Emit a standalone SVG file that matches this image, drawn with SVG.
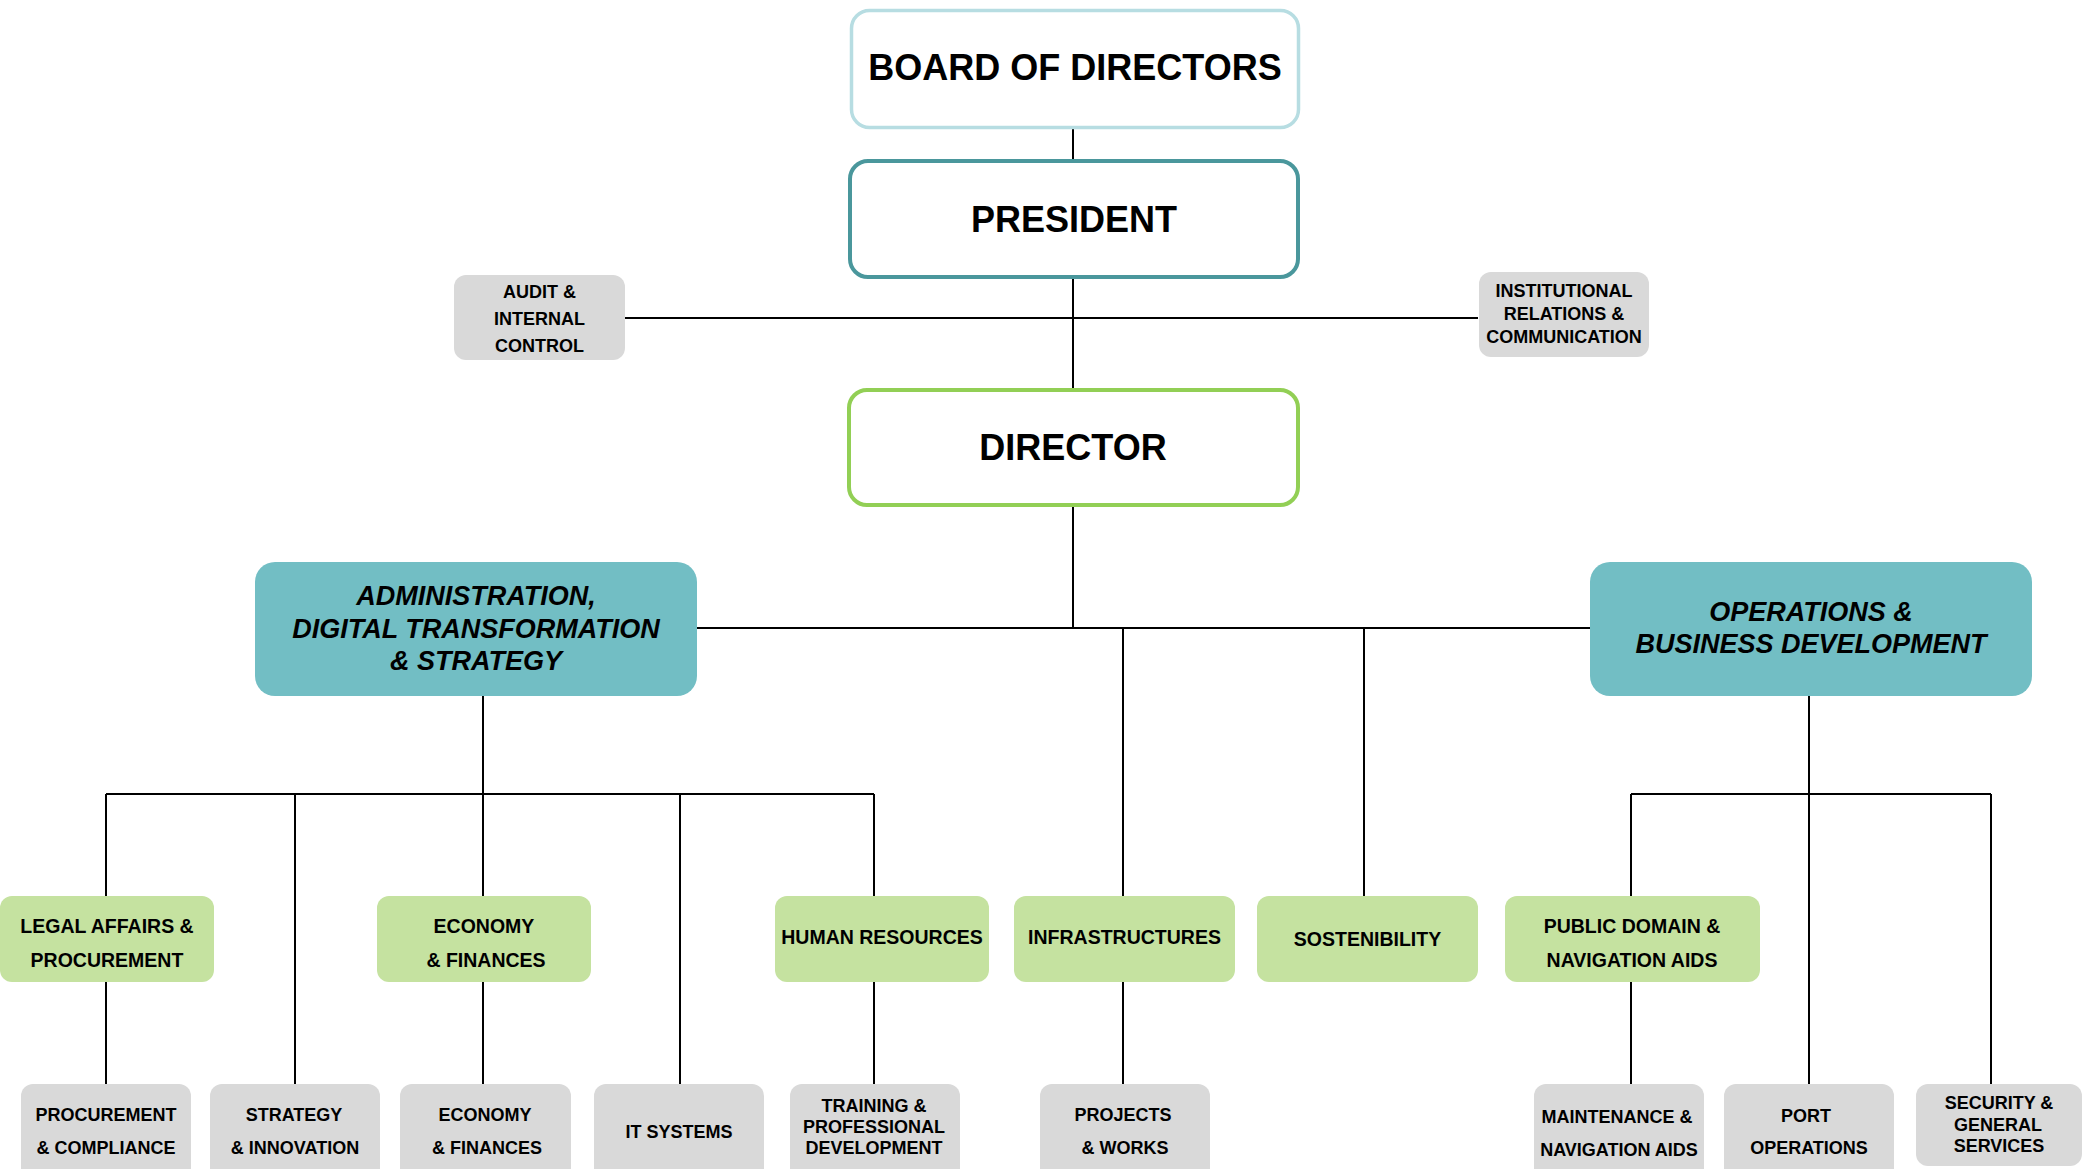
<svg xmlns="http://www.w3.org/2000/svg" width="2082" height="1169" viewBox="0 0 2082 1169">
<style>
text{font-family:"Liberation Sans",Arial,sans-serif;font-weight:bold;fill:#000;text-anchor:middle}
.big{font-size:36px}
.div{font-size:27px;font-style:italic}
.mid{font-size:19.5px}
.sm{font-size:18px}
.gray{fill:#d9d9d9}
.green{fill:#c5e2a0}
.teal{fill:#72bec4}
.line{stroke:#000;stroke-width:2;fill:none}
</style>
<rect width="2082" height="1169" fill="#fff"/>
<g id="connectors" class="line">
<path d="M1073 129V159M1073 278V388M625 318H1478M1073 505V628M697 628H1590M1123 628V896M1364 628V896"/>
<path d="M483 695V794M106 794H874M106 794V896M295 794V1084M483 794V896M680 794V1084M874 794V896"/>
<path d="M106 982V1084M483 982V1084M874 982V1084M1123 982V1084M1631 982V1084"/>
<path d="M1809 695V1084M1631 794H1991M1631 794V896M1991 794V1084"/>
</g>
<g id="board"><rect x="851.5" y="10.5" width="447" height="117" rx="18" fill="#fff" stroke="#b7dde2" stroke-width="3.5"/><text class="big" x="1075" y="80">BOARD OF DIRECTORS</text></g>
<g id="president"><rect x="850" y="161" width="448" height="116" rx="18" fill="#fff" stroke="#4a979c" stroke-width="4"/><text class="big" x="1074" y="232">PRESIDENT</text></g>
<g id="audit"><rect class="gray" x="454" y="275" width="171" height="85" rx="12"/><text class="sm" x="539.5" y="298">AUDIT &amp;</text><text class="sm" x="539.5" y="325">INTERNAL</text><text class="sm" x="539.5" y="352">CONTROL</text></g>
<g id="institutional"><rect class="gray" x="1479" y="272" width="170" height="85" rx="12"/><text class="sm" x="1564" y="297">INSTITUTIONAL</text><text class="sm" x="1564" y="320">RELATIONS &amp;</text><text class="sm" x="1564" y="343">COMMUNICATION</text></g>
<g id="director"><rect x="849" y="390" width="449" height="115" rx="18" fill="#fff" stroke="#92cf55" stroke-width="4"/><text class="big" x="1073" y="460">DIRECTOR</text></g>
<g id="admin"><rect class="teal" x="255" y="562" width="442" height="134" rx="20"/><text class="div" x="476" y="605">ADMINISTRATION,</text><text class="div" x="476" y="638">DIGITAL TRANSFORMATION</text><text class="div" x="476" y="670">&amp; STRATEGY</text></g>
<g id="operations"><rect class="teal" x="1590" y="562" width="442" height="134" rx="20"/><text class="div" x="1811" y="621">OPERATIONS &amp;</text><text class="div" x="1811" y="653">BUSINESS DEVELOPMENT</text></g>
<g id="legal"><rect class="green" x="0" y="896" width="214" height="86" rx="12"/><text class="mid" x="107" y="933">LEGAL AFFAIRS &amp;</text><text class="mid" x="107" y="967">PROCUREMENT</text></g>
<g id="economy"><rect class="green" x="377" y="896" width="214" height="86" rx="12"/><text class="mid" x="484" y="933">ECONOMY</text><text class="mid" x="486" y="967">&amp; FINANCES</text></g>
<g id="hr"><rect class="green" x="775" y="896" width="214" height="86" rx="12"/><text class="mid" x="882" y="944">HUMAN RESOURCES</text></g>
<g id="infrastructures"><rect class="green" x="1014" y="896" width="221" height="86" rx="12"/><text class="mid" x="1124.5" y="944">INFRASTRUCTURES</text></g>
<g id="sostenibility"><rect class="green" x="1257" y="896" width="221" height="86" rx="12"/><text class="mid" x="1367.5" y="946">SOSTENIBILITY</text></g>
<g id="public-domain"><rect class="green" x="1505" y="896" width="255" height="86" rx="12"/><text class="mid" x="1632" y="933">PUBLIC DOMAIN &amp;</text><text class="mid" x="1632" y="967">NAVIGATION AIDS</text></g>
<g id="procurement"><rect class="gray" x="21" y="1084" width="170" height="100" rx="12"/><text class="sm" x="106" y="1121">PROCUREMENT</text><text class="sm" x="106" y="1154">&amp; COMPLIANCE</text></g>
<g id="strategy"><rect class="gray" x="210" y="1084" width="170" height="100" rx="12"/><text class="sm" x="294" y="1121">STRATEGY</text><text class="sm" x="295" y="1154">&amp; INNOVATION</text></g>
<g id="economy2"><rect class="gray" x="400" y="1084" width="171" height="100" rx="12"/><text class="sm" x="485" y="1121">ECONOMY</text><text class="sm" x="487" y="1154">&amp; FINANCES</text></g>
<g id="it"><rect class="gray" x="594" y="1084" width="170" height="100" rx="12"/><text class="sm" x="679" y="1138">IT SYSTEMS</text></g>
<g id="training"><rect class="gray" x="790" y="1084" width="170" height="100" rx="12"/><text class="sm" x="874" y="1112">TRAINING &amp;</text><text class="sm" x="874" y="1133">PROFESSIONAL</text><text class="sm" x="874" y="1154">DEVELOPMENT</text></g>
<g id="projects"><rect class="gray" x="1040" y="1084" width="170" height="100" rx="12"/><text class="sm" x="1123" y="1121">PROJECTS</text><text class="sm" x="1125" y="1154">&amp; WORKS</text></g>
<g id="maintenance"><rect class="gray" x="1534" y="1084" width="170" height="100" rx="12"/><text class="sm" x="1617" y="1123">MAINTENANCE &amp;</text><text class="sm" x="1619" y="1156">NAVIGATION AIDS</text></g>
<g id="port"><rect class="gray" x="1724" y="1084" width="170" height="100" rx="12"/><text class="sm" x="1806" y="1122">PORT</text><text class="sm" x="1809" y="1154">OPERATIONS</text></g>
<g id="security"><rect class="gray" x="1916" y="1084" width="166" height="82" rx="12"/><text class="sm" x="1999" y="1109">SECURITY &amp;</text><text class="sm" x="1998" y="1131">GENERAL</text><text class="sm" x="1999" y="1152">SERVICES</text></g>
</svg>
